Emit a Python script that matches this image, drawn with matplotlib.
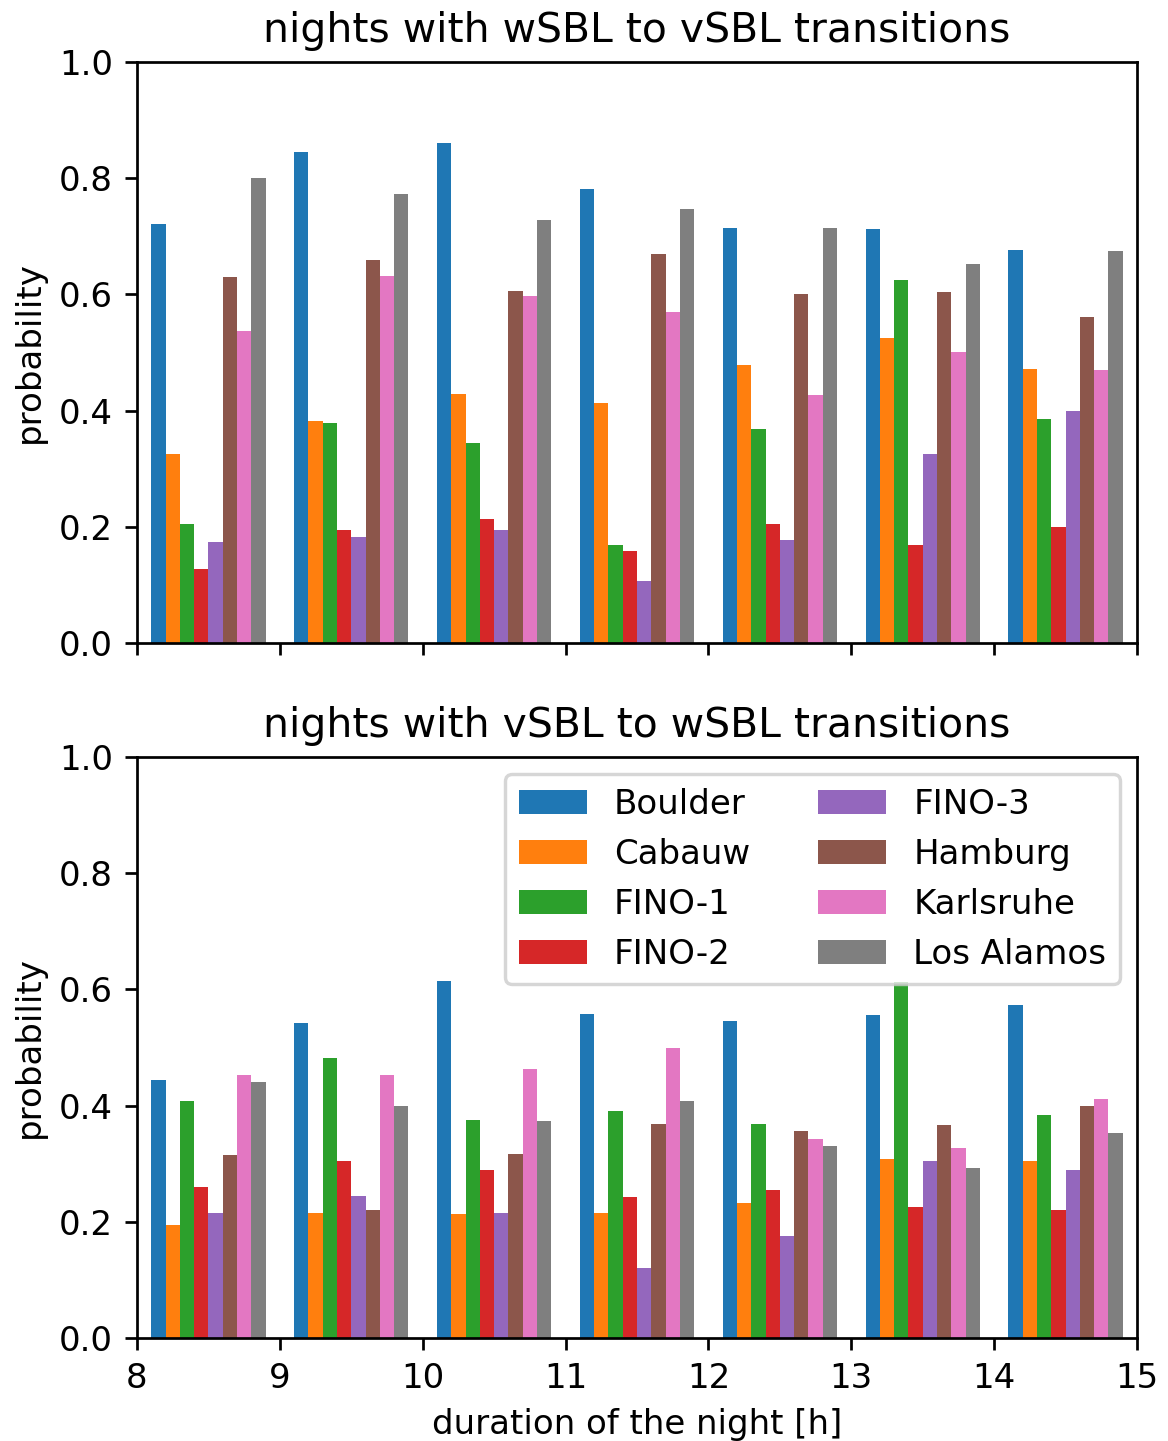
import numpy as np
import matplotlib
matplotlib.use("Agg")
import matplotlib.pyplot as plt

hours = [8, 9, 10, 11, 12, 13, 14]
stations = ["Boulder", "Cabauw", "FINO-1", "FINO-2", "FINO-3",
            "Hamburg", "Karlsruhe", "Los Alamos"]

# probability of wSBL -> vSBL transitions, one list per station
w2v_boulder   = [0.722, 0.845, 0.861, 0.781, 0.714, 0.712, 0.677]
w2v_cabauw    = [0.326, 0.382, 0.429, 0.413, 0.479, 0.525, 0.472]
w2v_fino1     = [0.204, 0.379, 0.345, 0.168, 0.369, 0.625, 0.385]
w2v_fino2     = [0.127, 0.195, 0.214, 0.159, 0.205, 0.168, 0.200]
w2v_fino3     = [0.173, 0.183, 0.194, 0.107, 0.177, 0.326, 0.400]
w2v_hamburg   = [0.630, 0.659, 0.606, 0.670, 0.601, 0.604, 0.561]
w2v_karlsruhe = [0.537, 0.632, 0.598, 0.570, 0.427, 0.501, 0.470]
w2v_losalamos = [0.800, 0.773, 0.728, 0.747, 0.714, 0.653, 0.675]

# probability of vSBL -> wSBL transitions, one list per station
v2w_boulder   = [0.444, 0.543, 0.615, 0.558, 0.546, 0.556, 0.574]
v2w_cabauw    = [0.194, 0.216, 0.213, 0.215, 0.232, 0.308, 0.305]
v2w_fino1     = [0.408, 0.482, 0.375, 0.390, 0.368, 0.612, 0.384]
v2w_fino2     = [0.260, 0.305, 0.290, 0.242, 0.255, 0.225, 0.221]
v2w_fino3     = [0.216, 0.245, 0.216, 0.121, 0.176, 0.305, 0.289]
v2w_hamburg   = [0.315, 0.220, 0.317, 0.368, 0.357, 0.366, 0.400]
v2w_karlsruhe = [0.453, 0.453, 0.463, 0.500, 0.343, 0.327, 0.411]
v2w_losalamos = [0.441, 0.400, 0.374, 0.408, 0.331, 0.293, 0.352]

w2v = [w2v_boulder, w2v_cabauw, w2v_fino1, w2v_fino2,
       w2v_fino3, w2v_hamburg, w2v_karlsruhe, w2v_losalamos]
v2w = [v2w_boulder, v2w_cabauw, v2w_fino1, v2w_fino2,
       v2w_fino3, v2w_hamburg, v2w_karlsruhe, v2w_losalamos]

colors = plt.rcParams["axes.prop_cycle"].by_key()["color"]

FS = 10
TFS = 12
DPI = 245
W, H = 1168, 1441

fig = plt.figure(figsize=(W / DPI, H / DPI), dpi=DPI)
left, width = 137 / W, 1000 / W
height = 581 / H
ax1 = fig.add_axes([left, (H - 643) / H, width, height])
ax2 = fig.add_axes([left, (H - 1338) / H, width, height], sharex=ax1)

bw = 0.1
x = np.array(hours, dtype=float)


def draw(ax, data, title):
    for i, (name, vals) in enumerate(zip(stations, data)):
        ax.bar(x + 0.1 + i * bw, vals, width=bw, align="edge",
               color=colors[i], label=name)
    ax.set_ylim(0, 1)
    ax.set_yticks([0.0, 0.2, 0.4, 0.6, 0.8, 1.0])
    ax.set_ylabel("probability", fontsize=FS)
    ax.set_title(title, fontsize=TFS)
    ax.tick_params(labelsize=FS)


draw(ax1, w2v, "nights with wSBL to vSBL transitions")
draw(ax2, v2w, "nights with vSBL to wSBL transitions")
ax1.set_xlim(8, 15)
ax1.tick_params(labelbottom=False)
ax2.set_xlabel("duration of the night [h]", fontsize=FS)
ax2.legend(ncol=2, fontsize=FS, loc="upper right")

fig.savefig("out.png", dpi=DPI)
